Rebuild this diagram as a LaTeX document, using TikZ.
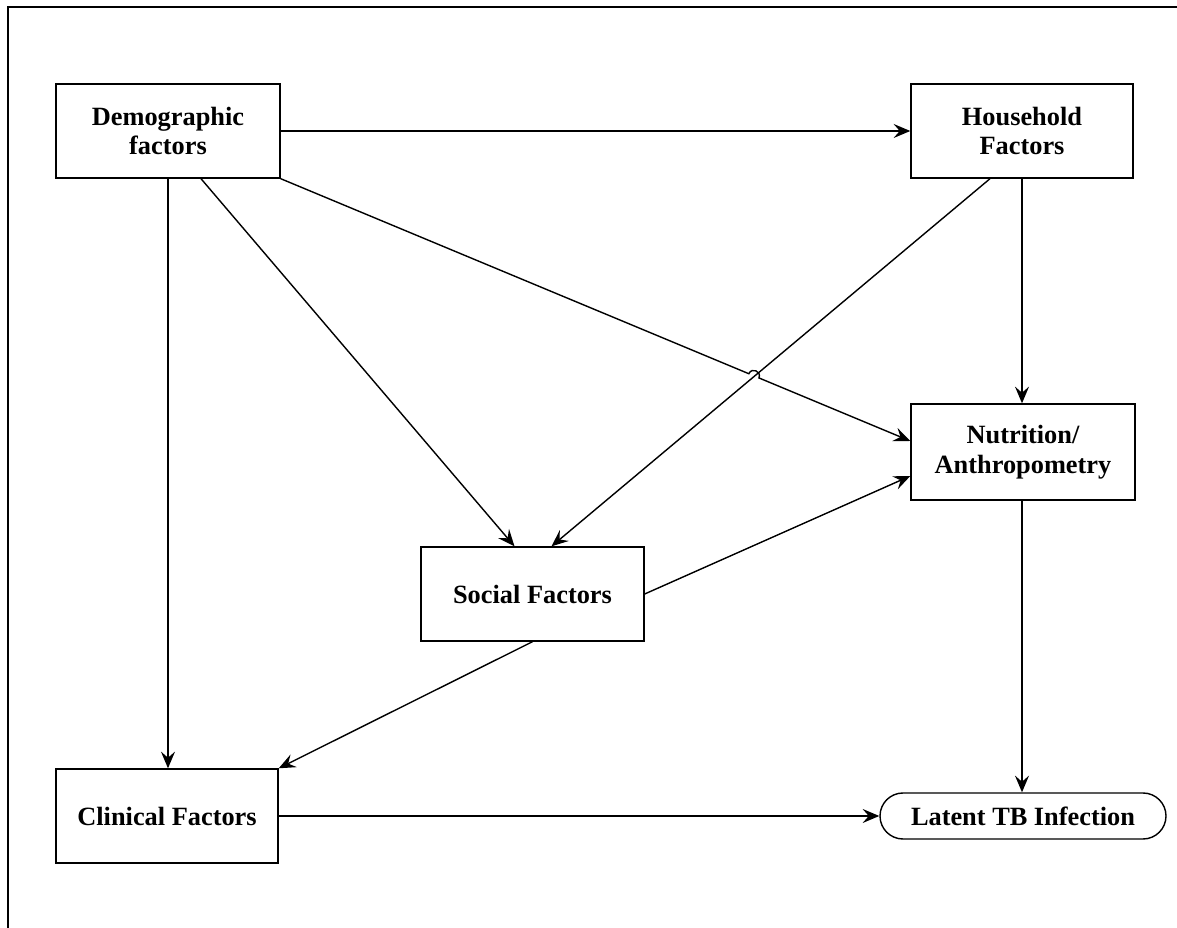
\documentclass[tikz,border=0pt]{standalone}
\usepackage{fontspec}
\setmainfont{Liberation Serif}
\usetikzlibrary{arrows.meta,calc}
\begin{document}
\begin{tikzpicture}[x=0.02cm,y=-0.02cm,
  box/.style={draw,line width=0.8pt,inner sep=0pt,align=center,font=\fontsize{15}{17}\selectfont\bfseries},
  conn/.style={line width=0.8pt,-{Stealth[length=9.5pt,width=8pt,inset=3.5pt]}}]
\useasboundingbox (0,0) rectangle (1177,928);
\draw[line width=0.9pt] (8,928) -- (8,7) -- (1177,7);
\node[box,minimum width=224*0.02cm,minimum height=94*0.02cm] (dem) at (168,131) {Demographic\\factors};
\node[box,minimum width=222*0.02cm,minimum height=94*0.02cm] (hh) at (1022,131) {Household\\Factors};
\node[box,minimum width=224*0.02cm,minimum height=96*0.02cm] (nut) at (1023,452) {Nutrition/\\Anthropometry};
\node[box,minimum width=223*0.02cm,minimum height=94*0.02cm] (soc) at (532.5,594) {Social Factors};
\node[box,minimum width=222*0.02cm,minimum height=94*0.02cm] (cli) at (167,816) {Clinical Factors};
\node[box,rounded corners=23*0.02cm,minimum width=286*0.02cm,minimum height=46*0.02cm] (lat) at (1023,816) {Latent TB Infection};
% straight connectors
\draw[conn] (dem.east) -- (hh.west);
\draw[conn] (dem.south) -- (dem.south |- cli.north);
\draw[conn] ([xshift=33*0.02cm]dem.south) -- ([xshift=-18*0.02cm]soc.north);
\draw[conn] ([xshift=-32*0.02cm]hh.south) -- ([xshift=19*0.02cm]soc.north);
\draw[conn] (hh.south) -- (hh.south |- nut.north);
\draw[conn] (soc.east) -- ([yshift=-24*0.02cm]nut.west);
\draw[conn] (soc.south) -- (cli.north east);
\draw[conn] (hh.south |- nut.south) -- (hh.south |- lat.north);
\draw[conn] (cli.east) -- (lat.west);
% demographic -> nutrition with hop
\coordinate (a0) at (dem.south east);
\coordinate (a1) at ([yshift=11*0.02cm]nut.west);
\draw[conn] (a0) -- ($(a0)!0.7436!(a1)$) to[out=67.5,in=67.5,looseness=1.7] ($(a0)!0.7596!(a1)$) -- (a1);
\end{tikzpicture}
\end{document}
